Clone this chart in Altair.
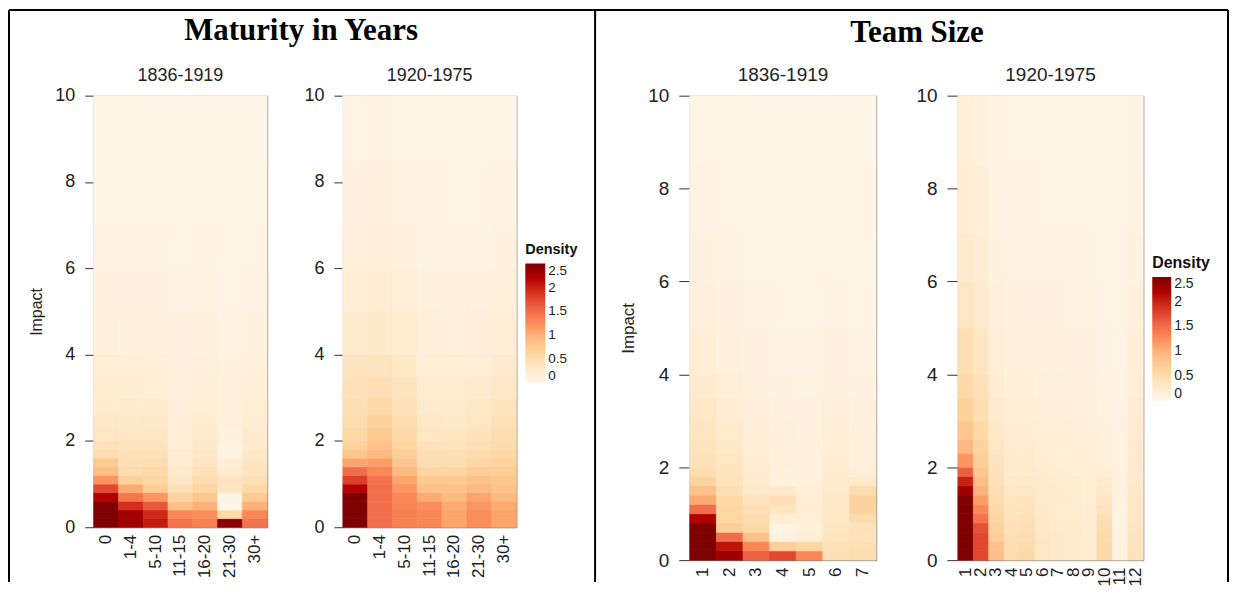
import altair as alt
import pandas as pd

# ---------------- data ----------------
EDGES = [0, 0.2, 0.4, 0.6, 0.8, 1.0, 1.2, 1.4, 1.6, 1.8, 2.0, 2.3, 2.6, 3.0, 3.5, 4.0, 5.0, 6.0, 7.0, 8.5, 10]

MAT_CATS = ["0", "1-4", "5-10", "11-15", "16-20", "21-30", "30+"]

MAT_EARLY = [
    [2.7, 2.7, 2.6, 2.2, 1.75, 1.2, 0.9, 0.75, 0.5, 0.42, 0.35, 0.32, 0.28, 0.24, 0.2, 0.15, 0.11, 0.08, 0.06, 0.04],
    [2.3, 2.3, 1.9, 1.45, 1.05, 0.65, 0.5, 0.46, 0.44, 0.4, 0.33, 0.3, 0.26, 0.22, 0.18, 0.13, 0.1, 0.07, 0.05, 0.04],
    [2.05, 1.95, 1.65, 1.2, 0.72, 0.6, 0.55, 0.5, 0.44, 0.4, 0.34, 0.3, 0.26, 0.21, 0.17, 0.13, 0.1, 0.07, 0.05, 0.03],
    [1.45, 1.3, 0.85, 0.62, 0.45, 0.33, 0.27, 0.24, 0.22, 0.2, 0.19, 0.18, 0.16, 0.14, 0.12, 0.1, 0.08, 0.06, 0.05, 0.03],
    [1.35, 1.25, 1.0, 0.8, 0.6, 0.5, 0.42, 0.37, 0.33, 0.3, 0.27, 0.24, 0.21, 0.18, 0.15, 0.12, 0.09, 0.07, 0.05, 0.03],
    [2.4, 0.55, 0.04, 0.05, 0.35, 0.38, 0.22, 0.2, 0.08, 0.08, 0.12, 0.15, 0.15, 0.13, 0.11, 0.08, 0.06, 0.05, 0.04, 0.03],
    [1.45, 1.3, 1.0, 0.75, 0.55, 0.45, 0.38, 0.34, 0.31, 0.28, 0.25, 0.22, 0.2, 0.17, 0.14, 0.11, 0.08, 0.06, 0.05, 0.03],
]

MAT_LATE = [
    [2.7, 2.7, 2.65, 2.5, 2.2, 1.8, 1.5, 1.1, 0.8, 0.65, 0.55, 0.5, 0.46, 0.42, 0.36, 0.28, 0.2, 0.15, 0.1, 0.06],
    [1.5, 1.5, 1.5, 1.5, 1.5, 1.45, 1.3, 1.15, 0.95, 0.85, 0.75, 0.65, 0.55, 0.45, 0.38, 0.3, 0.22, 0.16, 0.12, 0.07],
    [1.35, 1.35, 1.32, 1.3, 1.2, 1.1, 0.95, 0.8, 0.7, 0.62, 0.55, 0.48, 0.42, 0.36, 0.3, 0.24, 0.17, 0.12, 0.09, 0.05],
    [1.3, 1.3, 1.25, 1.05, 0.85, 0.75, 0.6, 0.5, 0.45, 0.42, 0.35, 0.32, 0.28, 0.24, 0.2, 0.16, 0.12, 0.09, 0.07, 0.04],
    [1.1, 1.1, 1.05, 0.95, 0.85, 0.75, 0.6, 0.5, 0.45, 0.4, 0.35, 0.3, 0.27, 0.23, 0.19, 0.15, 0.11, 0.08, 0.06, 0.04],
    [1.25, 1.25, 1.2, 1.1, 0.95, 0.85, 0.7, 0.6, 0.5, 0.45, 0.4, 0.34, 0.3, 0.25, 0.2, 0.16, 0.12, 0.09, 0.06, 0.04],
    [1.1, 1.1, 1.05, 0.95, 0.85, 0.78, 0.7, 0.62, 0.56, 0.52, 0.48, 0.43, 0.38, 0.32, 0.26, 0.2, 0.15, 0.11, 0.08, 0.05],
]

TEAM_CATS_EARLY = ["1", "2", "3", "4", "5", "6", "7"]

TEAM_EARLY = [
    [2.8, 2.8, 2.75, 2.6, 2.2, 1.5, 1.05, 0.85, 0.62, 0.5, 0.42, 0.38, 0.35, 0.31, 0.27, 0.21, 0.15, 0.11, 0.08, 0.05],
    [2.3, 2.1, 1.5, 0.7, 0.6, 0.58, 0.55, 0.45, 0.4, 0.38, 0.34, 0.3, 0.26, 0.22, 0.18, 0.14, 0.1, 0.08, 0.06, 0.04],
    [1.6, 1.3, 0.85, 0.55, 0.5, 0.45, 0.38, 0.3, 0.27, 0.25, 0.22, 0.2, 0.18, 0.16, 0.13, 0.1, 0.08, 0.06, 0.04, 0.03],
    [1.75, 0.7, 0.1, 0.08, 0.2, 0.35, 0.45, 0.3, 0.12, 0.12, 0.15, 0.15, 0.14, 0.12, 0.1, 0.08, 0.06, 0.05, 0.04, 0.03],
    [1.3, 0.6, 0.2, 0.15, 0.18, 0.22, 0.2, 0.17, 0.15, 0.14, 0.13, 0.12, 0.11, 0.1, 0.09, 0.07, 0.06, 0.05, 0.04, 0.03],
    [0.45, 0.42, 0.38, 0.35, 0.33, 0.32, 0.3, 0.28, 0.26, 0.24, 0.22, 0.2, 0.18, 0.16, 0.13, 0.1, 0.08, 0.06, 0.05, 0.03],
    [0.5, 0.45, 0.4, 0.42, 0.5, 0.62, 0.62, 0.5, 0.3, 0.18, 0.15, 0.14, 0.13, 0.12, 0.1, 0.08, 0.06, 0.05, 0.04, 0.03],
]

TEAM_CATS_LATE = ["1", "2", "3", "4", "5", "6", "7", "8", "9", "10", "11", "12"]

TEAM_LATE = [
    [2.9, 2.9, 2.9, 2.8, 2.8, 2.7, 2.6, 2.3, 2.0, 1.6, 1.2, 0.95, 0.8, 0.65, 0.55, 0.45, 0.35, 0.28, 0.22, 0.17],
    [1.75, 1.75, 1.75, 1.7, 1.45, 1.3, 1.15, 1.0, 0.9, 0.8, 0.7, 0.62, 0.55, 0.48, 0.42, 0.35, 0.28, 0.22, 0.18, 0.13],
    [0.9, 0.85, 0.7, 0.65, 0.6, 0.55, 0.5, 0.45, 0.42, 0.4, 0.37, 0.33, 0.3, 0.26, 0.22, 0.18, 0.14, 0.11, 0.09, 0.07],
    [0.5, 0.48, 0.45, 0.42, 0.4, 0.38, 0.35, 0.32, 0.3, 0.28, 0.26, 0.24, 0.22, 0.2, 0.17, 0.14, 0.11, 0.09, 0.07, 0.05],
    [0.55, 0.52, 0.48, 0.45, 0.42, 0.4, 0.36, 0.33, 0.3, 0.28, 0.26, 0.24, 0.22, 0.2, 0.17, 0.14, 0.11, 0.09, 0.07, 0.05],
    [0.35, 0.34, 0.33, 0.32, 0.3, 0.29, 0.28, 0.26, 0.25, 0.24, 0.22, 0.2, 0.18, 0.16, 0.14, 0.12, 0.1, 0.08, 0.06, 0.05],
    [0.3, 0.3, 0.29, 0.28, 0.27, 0.26, 0.25, 0.24, 0.23, 0.22, 0.21, 0.2, 0.18, 0.16, 0.14, 0.12, 0.1, 0.08, 0.06, 0.05],
    [0.28, 0.28, 0.27, 0.27, 0.26, 0.25, 0.24, 0.23, 0.22, 0.21, 0.2, 0.19, 0.17, 0.15, 0.13, 0.11, 0.09, 0.07, 0.06, 0.05],
    [0.24, 0.24, 0.23, 0.23, 0.22, 0.22, 0.21, 0.21, 0.2, 0.19, 0.18, 0.17, 0.16, 0.14, 0.12, 0.1, 0.09, 0.07, 0.06, 0.05],
    [0.55, 0.55, 0.52, 0.5, 0.45, 0.4, 0.35, 0.3, 0.25, 0.2, 0.15, 0.12, 0.1, 0.09, 0.08, 0.07, 0.06, 0.05, 0.05, 0.04],
    [0.1, 0.1, 0.1, 0.1, 0.1, 0.1, 0.1, 0.1, 0.1, 0.1, 0.09, 0.09, 0.08, 0.08, 0.07, 0.06, 0.05, 0.05, 0.04, 0.04],
    [0.4, 0.38, 0.36, 0.35, 0.33, 0.32, 0.3, 0.29, 0.28, 0.27, 0.26, 0.25, 0.24, 0.22, 0.2, 0.17, 0.14, 0.11, 0.09, 0.07],
]

Y_TICKS = [0, 2, 4, 6, 8, 10]
LEGEND_VALUES = [0, 0.5, 1, 1.5, 2, 2.5]
PERIODS = ["1836-1919", "1920-1975"]
PANEL_TITLES = ["Maturity in Years", "Team Size"]

# OrRd colour ramp (ColorBrewer), spread evenly over density 0 .. 2.5
ORRD = ["#fff7ec", "#fee8c8", "#fdd49e", "#fdbb84", "#fc8d59", "#ef6548", "#d7301f", "#b30000", "#7f0000"]
ORRD_STOPS = [0, 0.3125, 0.625, 0.9375, 1.25, 1.5625, 1.875, 2.1875, 2.5]
# same ramp for the cell outlines (hides hairline seams); one extra flat stop
EDGE_STOPS = ORRD_STOPS + [3.0]
EDGE_COLORS = ORRD + ["#7f0000"]


def long_table(cats, rows):
    recs = []
    for c, vals in zip(cats, rows):
        for i, v in enumerate(vals):
            recs.append({"cat": c, "lo": EDGES[i], "hi": EDGES[i + 1], "density": v})
    return pd.DataFrame(recs)


SANS = "Liberation Sans"
SERIF = "Liberation Serif"


def heat(cats, rows, width, height, subtitle, fs, impact, legend):
    df = long_table(cats, rows)
    yaxis = dict(
        values=Y_TICKS, grid=False, domain=False, tickSize=fs["tick"], tickColor="#333",
        labelFontSize=fs["y"], labelColor="#222", labelPadding=fs["ypad"], labelFont=SANS,
    )
    if impact:
        yaxis.update(titleFontSize=fs["t"], titleFontWeight="normal", titleColor="#222",
                     titleFont=SANS, titlePadding=10)
    color_kw = dict(scale=alt.Scale(domain=ORRD_STOPS, range=ORRD, clamp=True), title="Density")
    if legend is None:
        color_kw["legend"] = None
    else:
        color_kw["legend"] = legend
    return (
        alt.Chart(df)
        .mark_rect(strokeWidth=0.7)
        .encode(
            x=alt.X("cat:N", sort=cats, title=None,
                    scale=alt.Scale(paddingInner=0, paddingOuter=0),
                    axis=alt.Axis(labelAngle=270, labelFontSize=fs["x"], ticks=False, domain=False,
                                  labelPadding=7, labelColor="#222", labelFont=SANS)),
            y=alt.Y("lo:Q", title="Impact" if impact else None,
                    scale=alt.Scale(domain=[0, 10], nice=False),
                    axis=alt.Axis(**yaxis)),
            y2="hi:Q",
            color=alt.Color("density:Q", **color_kw),
            stroke=alt.Stroke("density:Q", scale=alt.Scale(domain=EDGE_STOPS, range=EDGE_COLORS, clamp=True),
                              legend=None),
        )
        .properties(
            width=width, height=height,
            title=alt.TitleParams(subtitle, fontSize=fs["sub"], font=SANS, fontWeight="normal",
                                  color="#222", anchor="middle", frame="group", offset=fs["suboff"]),
            view=alt.ViewBackground(stroke="#666", strokeWidth=1),
        )
    )


def make_legend(x, y, length, thick, tfs, lfs):
    return alt.Legend(
        type="gradient", orient="none", legendX=x, legendY=y, direction="vertical",
        values=LEGEND_VALUES, format=".1~f", labelOverlap=False,
        gradientLength=length, gradientThickness=thick, gradientStrokeWidth=0,
        titleFontSize=tfs, titleFontWeight="bold", titleFont=SANS, titleColor="#111",
        labelFontSize=lfs, labelFont=SANS, labelColor="#222", labelOffset=3, titlePadding=6,
        padding=0,
    )


ONE = pd.DataFrame({"k": [0]})
NO_FRAME = alt.ViewBackground(strokeOpacity=0, strokeWidth=0)


def blank(width, height, title):
    ch = alt.Chart(ONE).mark_rule(opacity=0).encode(x=alt.value(0), y=alt.value(0), y2=alt.value(1))
    return ch.properties(width=width, height=height, title=title, view=NO_FRAME)


def borders(width, height):
    base = alt.Chart(ONE)
    style = dict(color="black", strokeWidth=2)
    top = base.mark_rule(**style).encode(x=alt.value(-509), x2=alt.value(714), y=alt.value(-86))
    left = base.mark_rule(**style).encode(x=alt.value(-509), y=alt.value(-86), y2=alt.value(488))
    div = base.mark_rule(**style).encode(x=alt.value(79), y=alt.value(-86), y2=alt.value(488))
    right = base.mark_rule(**style).encode(x=alt.value(714), y=alt.value(-86), y2=alt.value(488))
    return alt.layer(top, left, div, right).properties(width=width, height=height, view=NO_FRAME)


FS_L = dict(y=18, x=17, t=16, sub=18, tick=9, ypad=10, suboff=2)
FS_R = dict(y=19, x=17, t=17, sub=19, tick=11, ypad=10, suboff=2)

L1 = heat(MAT_CATS, MAT_EARLY, 174, 433, PERIODS[0], FS_L, True, None)
L2 = heat(MAT_CATS, MAT_LATE, 174, 433, PERIODS[1], FS_L, False,
          make_legend(183, 148, 120, 20, 14.5, 13.5))
R1 = heat(TEAM_CATS_EARLY, TEAM_EARLY, 187, 466, PERIODS[0], FS_R, True, None)
R2 = heat(TEAM_CATS_LATE, TEAM_LATE, 186, 466, PERIODS[1], FS_R, False,
          make_legend(195, 160, 124, 19, 16, 14))

gapA = blank(76, 433, alt.TitleParams(PANEL_TITLES[0], fontSize=31, font=SERIF, fontWeight="bold",
                                      color="black", anchor="middle", frame="group", offset=49, dx=-4))
gapB = borders(174, 433)
gapC = blank(82, 466, alt.TitleParams(PANEL_TITLES[1], fontSize=31, font=SERIF, fontWeight="bold",
                                      color="black", anchor="middle", frame="group", offset=47))

chart = (
    alt.hconcat(L1, gapA, L2, gapB, R1, gapC, R2, spacing=0, bounds="flush")
    .resolve_scale(color="independent", stroke="independent", x="independent", y="independent")
    .properties(padding=0, background="white")
    .configure_view(strokeWidth=0, stroke="transparent")
    .configure(font=SANS)
)

chart.save("out.html", embed_options={"renderer": "svg", "actions": False})
